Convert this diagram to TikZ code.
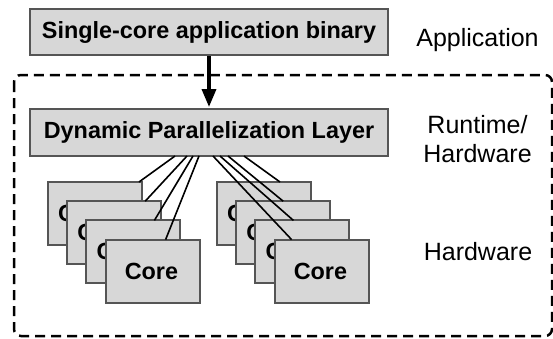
\documentclass[tikz,border=0pt]{standalone}
\usepackage{fontspec}
\setmainfont{Liberation Sans}
\usetikzlibrary{arrows.meta,calc}
\definecolor{boxfill}{HTML}{D7D7D7}
\definecolor{boxedge}{HTML}{555555}
\begin{document}
\begin{tikzpicture}[x=1pt,y=-1pt,
  box/.style={draw=boxedge, fill=boxfill, line width=2pt, rectangle, inner sep=0pt},
  boldtext/.style={font=\fontsize{23.4}{28}\selectfont\bfseries},
  corebox/.style={box, minimum width=94pt, minimum height=63pt},
  coretext/.style={boldtext, inner sep=0pt, anchor=west},
  tag/.style={font=\fontsize{25}{30}\selectfont, inner sep=0pt, anchor=base},
  wire/.style={line width=1.6pt, black},
  frame/.style={black, line width=2.5pt, dash pattern=on 10pt off 6pt, rounded corners=7pt},
]
\useasboundingbox (0,0) rectangle (553,338);

% dashed runtime/hardware frame
\draw[frame] (14,75) rectangle (552,336);

% application binary and parallelization layer
\node[box, boldtext, minimum width=358pt, minimum height=46pt] (bin) at (209,32) {Single-core application binary};
\node[box, boldtext, minimum width=358pt, minimum height=47pt] (layer) at (209,132.5) {Dynamic Parallelization Layer};
\draw[line width=3.5pt, -{Triangle[length=18pt,width=14pt]}, shorten >=1pt] (bin.south) -- (layer.north);

% two stacks of cores
\foreach \k/\off in {0/11,1/11,2/11,3/20} {
  \node[corebox] (lc\k) at ({95+19.2*\k},{213.5+19.2*\k}) {};
  \node[coretext] (lt\k) at ($(lc\k.west)+(\off,0)$) {Core};
}
\foreach \k/\off in {0/11,1/11,2/11,3/20} {
  \node[corebox] (rc\k) at ({264+19.2*\k},{213.5+19.2*\k}) {};
  \node[coretext] (rt\k) at ($(rc\k.west)+(\off,0)$) {Core};
}

% links from the layer to each core
\foreach \k/\sx/\ex in {0/175/91, 1/187/78, 2/193/68, 3/199/60}
  \draw[wire] ($(layer.south)+({\sx-209},-1)$) -- ($(lc\k.north west)+({\ex+1},1)$);
\foreach \k/\sx/\ex in {0/244/63, 1/228/47, 2/220/38, 3/213/17}
  \draw[wire] ($(layer.south)+({\sx-209},-1)$) -- ($(rc\k.north west)+({\ex+1},1)$);

% layer labels
\node[tag] (app) at (477.5,46) {Application};
\node[tag] (rtlabel) at (477.5,133) {Runtime/};
\node[tag] (hwlabel) at (477.5,162) {Hardware};
\node[tag] (hw) at (478,260) {Hardware};
\end{tikzpicture}
\end{document}
